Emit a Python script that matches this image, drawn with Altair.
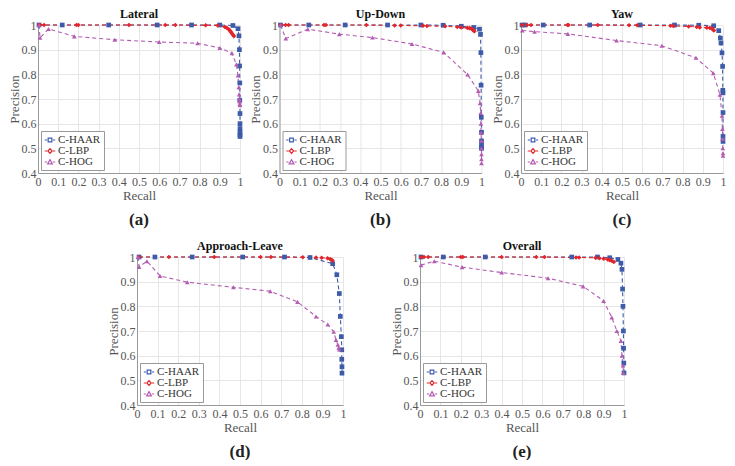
import altair as alt
import pandas as pd

SERIF = "Liberation Serif"
METHODS = ["C-HAAR", "C-LBP", "C-HOG"]
COLORS = ["#3D5BA9", "#E3262B", "#B35CB2"]
SHAPES = ["square", "diamond", "triangle-up"]
LEGEND_SHAPES = [
    "M-1,0H-0.55M0.55,0H1M-0.35,-0.35H0.35V0.35H-0.35Z",
    "M-1,0H-0.55M0.55,0H1M0,-0.45L0.4,0L0,0.45L-0.4,0Z",
    "M-1,0H-0.55M0.55,0H1M0,-0.45L0.45,0.35H-0.45Z",
]
X_TICKS = [0, 0.1, 0.2, 0.3, 0.4, 0.5, 0.6, 0.7, 0.8, 0.9, 1]
Y_TICKS = [0.4, 0.5, 0.6, 0.7, 0.8, 0.9, 1]

# ---- (a) Lateral
haar_a_r = [0.005, 0.12, 0.35, 0.59, 0.76, 0.90, 0.965, 0.99, 0.995, 0.997, 0.998, 0.999, 0.999, 1.0, 1.0, 1.0, 1.0, 1.0, 1.0]
haar_a_p = [1.0, 1.0, 1.0, 1.0, 1.0, 1.0, 0.998, 0.985, 0.956, 0.90, 0.834, 0.765, 0.695, 0.641, 0.60, 0.58, 0.565, 0.555, 0.548]
lbp_a_r = [0.005, 0.01, 0.03, 0.19, 0.20, 0.45, 0.63, 0.68, 0.83, 0.89, 0.925, 0.935, 0.945, 0.95, 0.955, 0.96, 0.965, 0.97]
lbp_a_p = [1.0, 1.0, 1.0, 1.0, 1.0, 1.0, 1.0, 1.0, 0.999, 0.998, 0.992, 0.988, 0.982, 0.977, 0.972, 0.966, 0.96, 0.955]
hog_a_r = [0.005, 0.01, 0.052, 0.18, 0.38, 0.60, 0.79, 0.90, 0.96, 0.982, 0.99, 0.994, 0.996, 0.997, 0.998, 0.999, 1.0]
hog_a_p = [1.0, 0.948, 0.984, 0.954, 0.94, 0.931, 0.926, 0.907, 0.886, 0.84, 0.795, 0.748, 0.718, 0.70, 0.69, 0.68, 0.675]

# ---- (b) Up-Down
haar_b_r = [0.005, 0.145, 0.325, 0.535, 0.70, 0.81, 0.90, 0.962, 0.99, 0.995, 0.997, 0.998, 0.999, 1.0, 1.0, 1.0, 1.0, 1.0]
haar_b_p = [1.0, 1.0, 1.0, 1.0, 1.0, 0.999, 0.995, 0.99, 0.983, 0.962, 0.888, 0.756, 0.626, 0.565, 0.53, 0.515, 0.505, 0.50]
lbp_b_r = [0.005, 0.03, 0.045, 0.22, 0.23, 0.43, 0.57, 0.60, 0.71, 0.73, 0.82, 0.88, 0.90, 0.93, 0.94, 0.95, 0.955, 0.96, 0.965]
lbp_b_p = [1.0, 1.0, 1.0, 1.0, 1.0, 1.0, 0.998, 0.998, 0.997, 0.996, 0.995, 0.992, 0.99, 0.988, 0.987, 0.985, 0.982, 0.978, 0.975]
hog_b_r = [0.005, 0.031, 0.14, 0.296, 0.46, 0.656, 0.813, 0.931, 0.984, 0.993, 0.996, 0.997, 0.998, 0.999, 0.999, 1.0, 1.0, 1.0]
hog_b_p = [1.0, 0.945, 0.983, 0.963, 0.949, 0.923, 0.889, 0.799, 0.733, 0.683, 0.643, 0.60, 0.563, 0.53, 0.50, 0.476, 0.456, 0.44]

# ---- (c) Yaw
haar_c_r = [0.005, 0.02, 0.11, 0.34, 0.59, 0.76, 0.88, 0.954, 0.979, 0.987, 0.99, 0.995, 0.998, 0.999, 1.0, 1.0, 1.0, 1.0]
haar_c_p = [1.0, 1.0, 1.0, 1.0, 1.0, 1.0, 0.999, 0.997, 0.977, 0.947, 0.927, 0.887, 0.832, 0.735, 0.725, 0.645, 0.548, 0.528]
lbp_c_r = [0.005, 0.03, 0.05, 0.23, 0.235, 0.38, 0.535, 0.575, 0.74, 0.755, 0.83, 0.87, 0.885, 0.92, 0.935, 0.945, 0.95, 0.955]
lbp_c_p = [1.0, 1.0, 1.0, 1.0, 1.0, 1.0, 0.999, 0.999, 0.997, 0.996, 0.994, 0.992, 0.99, 0.989, 0.988, 0.986, 0.982, 0.978]
hog_c_r = [0.006, 0.067, 0.232, 0.473, 0.697, 0.866, 0.952, 0.985, 0.995, 0.997, 0.998, 0.999, 1.0, 1.0]
hog_c_p = [0.978, 0.973, 0.964, 0.937, 0.916, 0.867, 0.805, 0.717, 0.632, 0.578, 0.538, 0.50, 0.48, 0.47]

# ---- (d) Approach-Leave
haar_d_r = [0.01, 0.087, 0.268, 0.513, 0.716, 0.84, 0.95, 0.97, 0.982, 0.987, 0.992, 0.994, 0.994, 0.995, 0.995]
haar_d_p = [1.0, 1.0, 1.0, 1.0, 1.0, 0.998, 0.973, 0.928, 0.852, 0.759, 0.677, 0.624, 0.585, 0.555, 0.529]
lbp_d_r = [0.01, 0.155, 0.375, 0.60, 0.65, 0.805, 0.869, 0.896, 0.925, 0.937, 0.945, 0.949]
lbp_d_p = [1.0, 1.0, 1.0, 1.0, 1.0, 0.999, 0.998, 0.997, 0.995, 0.992, 0.988, 0.985]
hog_d_r = [0.005, 0.01, 0.048, 0.112, 0.244, 0.468, 0.647, 0.779, 0.869, 0.926, 0.955, 0.966, 0.975, 0.979, 0.982]
hog_d_p = [1.0, 0.96, 0.983, 0.923, 0.898, 0.877, 0.861, 0.818, 0.759, 0.726, 0.697, 0.664, 0.644, 0.632, 0.625]

# ---- (e) Overall
haar_e_r = [0.005, 0.114, 0.32, 0.744, 0.87, 0.93, 0.97, 0.985, 0.99, 0.993, 0.995, 0.997, 0.998, 0.999, 1.0]
haar_e_p = [1.0, 1.0, 1.0, 1.0, 1.0, 0.997, 0.99, 0.975, 0.95, 0.87, 0.80, 0.70, 0.63, 0.57, 0.53]
lbp_e_r = [0.005, 0.02, 0.04, 0.20, 0.21, 0.40, 0.57, 0.61, 0.765, 0.78, 0.86, 0.88, 0.90, 0.92, 0.93, 0.94, 0.95]
lbp_e_p = [1.0, 1.0, 1.0, 1.0, 1.0, 1.0, 1.0, 1.0, 0.998, 0.998, 0.997, 0.995, 0.993, 0.99, 0.987, 0.985, 0.98]
hog_e_r = [0.005, 0.07, 0.206, 0.40, 0.628, 0.80, 0.90, 0.94, 0.965, 0.985, 0.99, 0.995, 0.997]
hog_e_p = [0.967, 0.983, 0.959, 0.937, 0.914, 0.881, 0.822, 0.755, 0.70, 0.66, 0.60, 0.56, 0.53]

PANELS = [
    ("Lateral", "(a)", [(haar_a_r, haar_a_p), (lbp_a_r, lbp_a_p), (hog_a_r, hog_a_p)], 202),
    ("Up-Down", "(b)", [(haar_b_r, haar_b_p), (lbp_b_r, lbp_b_p), (hog_b_r, hog_b_p)], 202),
    ("Yaw", "(c)", [(haar_c_r, haar_c_p), (lbp_c_r, lbp_c_p), (hog_c_r, hog_c_p)], 202),
    ("Approach-Leave", "(d)", [(haar_d_r, haar_d_p), (lbp_d_r, lbp_d_p), (hog_d_r, hog_d_p)], 206),
    ("Overall", "(e)", [(haar_e_r, haar_e_p), (lbp_e_r, lbp_e_p), (hog_e_r, hog_e_p)], 204),
]
H = 148


def make_panel(title, caption, series, width):
    rows = []
    for m, (rr, pp) in zip(METHODS, series):
        for i, (r, p) in enumerate(zip(rr, pp)):
            rows.append({"method": m, "idx": i, "recall": r, "precision": p})
    df = pd.DataFrame(rows)
    x = alt.X("recall:Q", scale=alt.Scale(domain=[0, 1], nice=False),
              axis=alt.Axis(values=X_TICKS, format="~g", title="Recall", labelFlush=False,
                            labelPadding=3, titlePadding=2))
    y = alt.Y("precision:Q", scale=alt.Scale(domain=[0.4, 1], nice=False, zero=False),
              axis=alt.Axis(values=Y_TICKS, format="~g", title="Precision",
                            labelPadding=2, titlePadding=0))
    color_nl = alt.Color("method:N", scale=alt.Scale(domain=METHODS, range=COLORS), legend=None)
    shape_nl = alt.Shape("method:N", scale=alt.Scale(domain=METHODS, range=SHAPES), legend=None)
    color_l = alt.Color("method:N", scale=alt.Scale(domain=METHODS, range=COLORS), title=None)
    shape_l = alt.Shape("method:N", scale=alt.Scale(domain=METHODS, range=LEGEND_SHAPES), title=None)

    lines = alt.Chart(df).mark_line(strokeDash=[4, 3], strokeWidth=1.1).encode(
        x=x, y=y, color=color_nl, order=alt.Order("idx:Q"))
    pts = alt.Chart(df).mark_point(filled=True, size=22, opacity=1).encode(
        x=x, y=y, color=color_nl, shape=shape_nl)
    leg = alt.Chart(df).transform_filter("false").mark_point(
        filled=False, size=110, strokeWidth=1.2, opacity=1).encode(
        x=x, y=y, color=color_l, shape=shape_l)
    cap = alt.Chart(pd.DataFrame({"c": [caption]})).mark_text(
        font=SERIF, fontSize=17, fontWeight="bold", color="#222", baseline="middle"
    ).encode(text="c:N", x=alt.value(width / 2), y=alt.value(H + 47))
    layered = alt.layer(lines, pts, leg, cap).resolve_scale(
        color="independent", shape="independent")
    return layered.properties(
        width=width, height=H,
        title=alt.TitleParams(title, anchor="middle", offset=-2, frame="group"))


charts = [make_panel(*p) for p in PANELS]


def indep(c):
    return c.resolve_scale(color="independent", shape="independent").resolve_legend(
        color="independent", shape="independent")


top = indep(alt.hconcat(charts[0], charts[1], charts[2], spacing=39.5, bounds="flush"))
bottom = indep(alt.hconcat(charts[3], charts[4], spacing=77, bounds="flush"))

chart = indep(alt.vconcat(top, bottom, spacing=12, center=True))

chart = chart.properties(padding={"left": 0, "top": 0, "right": 0, "bottom": 0}).configure_view(
    strokeWidth=0
).configure_axis(
    labelFont=SERIF, labelFontSize=12, labelColor="#555555",
    titleFont=SERIF, titleFontSize=13, titleColor="#555555", titleFontWeight="normal",
    gridColor="#e6e6e6", domainColor="#999999", ticks=False
).configure_title(
    font=SERIF, fontSize=12, fontWeight="bold", color="#111111"
).configure_legend(
    orient="bottom-left", offset=3, strokeColor="#999999", fillColor="white", padding=3,
    labelFont=SERIF, labelFontSize=11, labelColor="#333333", symbolSize=110,
    rowPadding=0, symbolStrokeWidth=1.2, symbolOpacity=1, labelOffset=2, cornerRadius=0
)

chart.save("out.html", embed_options={"renderer": "svg", "actions": False})
